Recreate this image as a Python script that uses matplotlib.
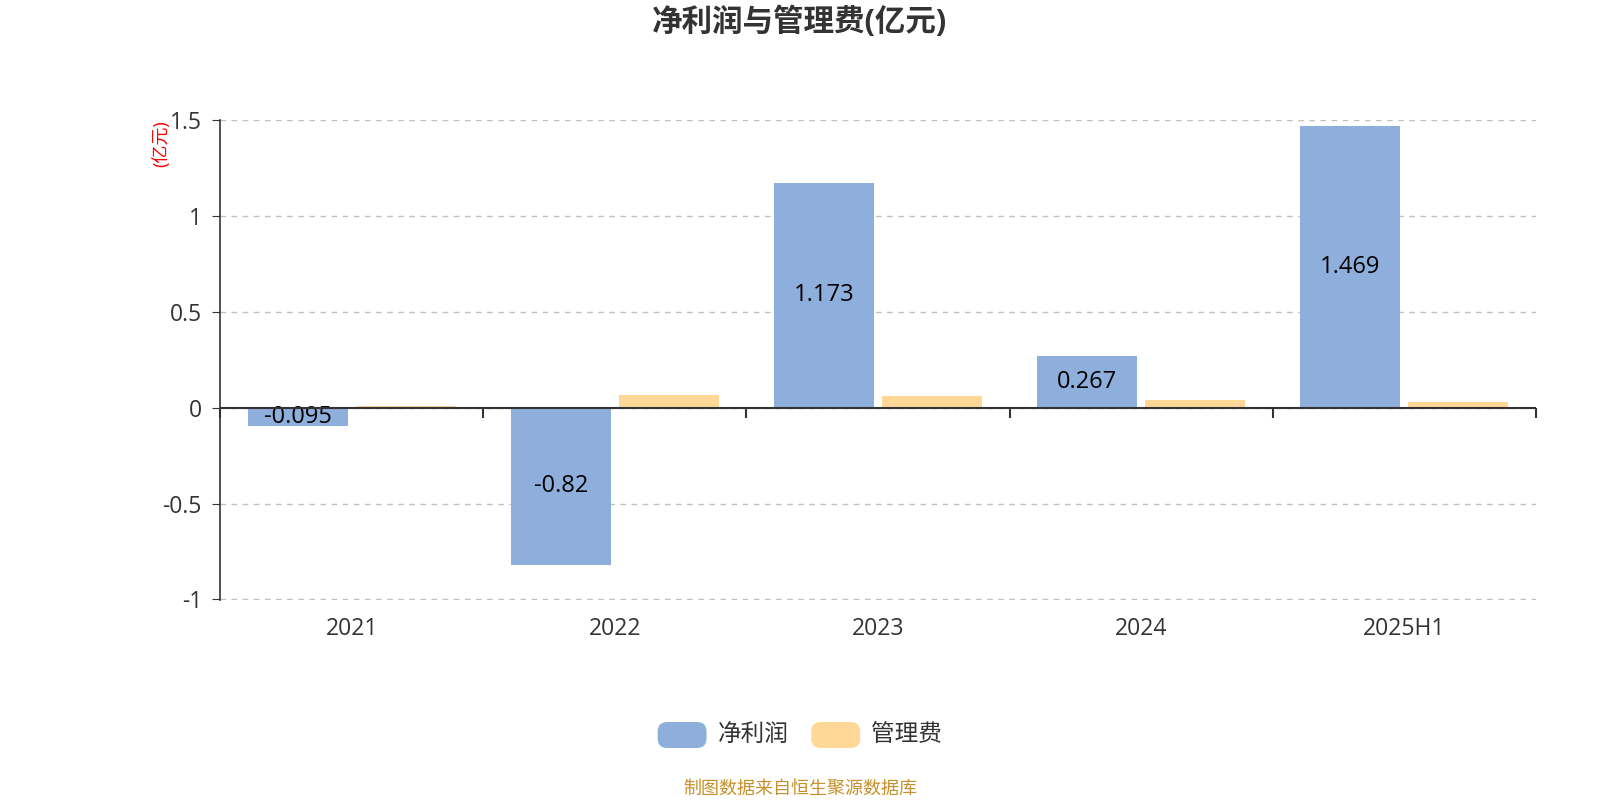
import numpy as np
import matplotlib
matplotlib.use("Agg")
import matplotlib.pyplot as plt
from matplotlib.patches import FancyBboxPatch

plt.rcParams['font.family'] = ['Open Sans', 'Noto Sans CJK SC', 'DejaVu Sans']
plt.rcParams['axes.unicode_minus'] = False

categories = ['2021', '2022', '2023', '2024', '2025H1']
net_profit = [-0.095, -0.82, 1.173, 0.267, 1.469]
admin_fee = [0.01, 0.068, 0.06, 0.04, 0.031]
net_labels = ['-0.095', '-0.82', '1.173', '0.267', '1.469']
yticks = [-1, -0.5, 0, 0.5, 1, 1.5]
ytick_labels = ['-1', '-0.5', '0', '0.5', '1', '1.5']

blue = '#8EAEDB'
orange = '#FFD898'
txt = '#333333'

fig = plt.figure(figsize=(16, 8), dpi=100)
ax = fig.add_axes([0.1375, 0.25, 0.8225, 0.60])

x = np.arange(len(categories))
w = 0.38
b1 = ax.bar(x - 0.205, net_profit, w, color=blue, zorder=3)
b2 = ax.bar(x + 0.205, admin_fee, w, color=orange, zorder=3)
ax.bar_label(b1, labels=net_labels, label_type='center', fontsize=17, color='black', zorder=4)

ax.set_xlim(-0.5, len(categories) - 0.5)
ax.set_ylim(-1.003, 1.5)
ax.set_yticks(yticks)
ax.set_yticklabels(ytick_labels)
ax.grid(axis='y', linestyle=(0, (4, 4)), color='#c0c0c0', linewidth=1, zorder=0)

for s in ['top', 'right', 'bottom']:
    ax.spines[s].set_visible(False)
ax.spines['left'].set_color(txt)
ax.spines['left'].set_linewidth(1.2)
ax.tick_params(axis='y', length=6, color=txt, labelsize=16.5, labelcolor=txt, pad=7)
ax.set_xticks(x)
ax.set_xticklabels(categories)
ax.tick_params(axis='x', length=0, labelsize=16.5, labelcolor=txt, pad=12)

# zero axis line with boundary ticks
ax.axhline(0, color=txt, linewidth=1.5, zorder=5)
sec = ax.secondary_xaxis(0, transform=ax.transData)
sec.set_xticks(np.arange(len(categories) + 1) - 0.5)
sec.set_xticklabels([])
sec.spines['bottom'].set_visible(False)
sec.tick_params(axis='x', length=7, width=1.5, color=txt, direction='out')

ax.text(-0.045, 1.0, '(亿元)', transform=ax.transAxes, rotation=90, color='red',
        fontsize=13, ha='center', va='top')

fig.text(0.5, 0.972, '净利润与管理费(亿元)', ha='center', va='center', fontsize=22,
         fontweight='bold', color=txt)

# legend
for px, col, lab in zip([0.411, 0.507], [blue, orange], ['净利润', '管理费']):
    p = FancyBboxPatch((px, 0.065), 0.0306, 0.0325,
                       boxstyle='round,pad=0,rounding_size=0.006',
                       transform=fig.transFigure, facecolor=col, edgecolor='none',
                       mutation_aspect=2)
    fig.patches.append(p)
    fig.text(px + 0.0375, 0.081, lab, ha='left', va='center', fontsize=17, color=txt)

fig.text(0.5, 0.014, '制图数据来自恒生聚源数据库', ha='center', va='center', fontsize=13,
         color='#C8902A')

fig.savefig('out.png', dpi=100)
